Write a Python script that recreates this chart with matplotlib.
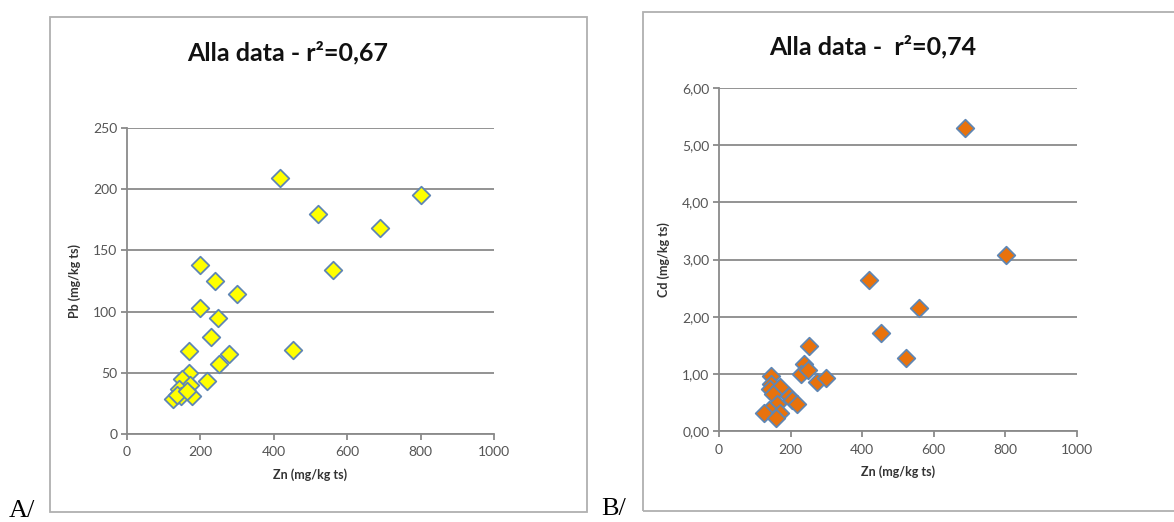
import matplotlib
matplotlib.use("Agg")
import matplotlib.pyplot as plt
from matplotlib.patches import Rectangle

# Panel A: Zn vs Pb
zn_a = [417, 802, 521, 689, 562, 451, 198, 240, 299, 198, 247, 228, 170, 278,
        251, 168, 218, 151, 172, 142, 177, 125, 148, 136, 163]
pb_a = [209, 195, 180, 168, 134, 69, 138, 125, 114, 103, 95, 79, 68, 65,
        57, 50, 43, 45, 40, 37, 31, 29, 31, 32, 35]

# Panel B: Zn vs Cd
zn_b = [687, 802, 420, 560, 452, 522, 251, 237, 229, 249, 274, 300, 146, 146,
        142, 170, 151, 196, 204, 218, 163, 140, 126, 170, 160]
cd_b = [5.30, 3.07, 2.65, 2.15, 1.72, 1.28, 1.49, 1.18, 1.00, 1.07, 0.86, 0.92,
        0.96, 0.83, 0.74, 0.77, 0.65, 0.61, 0.55, 0.47, 0.48, 0.37, 0.32, 0.31, 0.22]

xticks = [0, 200, 400, 600, 800, 1000]
yticks_a = [0, 50, 100, 150, 200, 250]
yticks_b = [0, 1, 2, 3, 4, 5, 6]

title_a = "Alla data - r²=0,67"
title_b = "Alla data -  r²=0,74"

W, H = 1174, 522
fig = plt.figure(figsize=(W / 100, H / 100), dpi=100)
fig.patch.set_facecolor("white")

FONT = "Lato"
tick_col = "#555555"
grid_col = "#8a8a8a"

def fx(px):
    return px / W

def fy(py):
    return 1 - py / H

# chart frames
for (x0, y0, x1, y1) in [(50, 17, 587, 512), (643, 12, 1185, 511)]:
    fig.patches.append(Rectangle((fx(x0), fy(y1)), fx(x1 - x0), (y1 - y0) / H,
                                 transform=fig.transFigure, fill=False,
                                 edgecolor="#b0b0b0", lw=1.3, zorder=0))

def make_ax(rect, x, y, yticks, ylim, color, ylabel, fmt):
    l, t, r, b = rect
    ax = fig.add_axes([fx(l), fy(b), fx(r - l), (b - t) / H])
    ax.set_xlim(0, 1000)
    ax.set_ylim(*ylim)
    ax.set_xticks(xticks)
    ax.set_yticks(yticks)
    ax.set_xticklabels([str(v) for v in xticks])
    ax.set_yticklabels([fmt(v) for v in yticks])
    for s in ["top", "right"]:
        ax.spines[s].set_visible(False)
    for s in ["left", "bottom"]:
        ax.spines[s].set_color(grid_col)
        ax.spines[s].set_linewidth(1.3)
    ax.yaxis.grid(True, color=grid_col, lw=1.3)
    ax.set_axisbelow(True)
    ax.tick_params(axis="both", colors=grid_col, length=4, width=1.3,
                   labelcolor=tick_col, labelsize=10)
    for lab in ax.get_xticklabels() + ax.get_yticklabels():
        lab.set_fontfamily(FONT)
    ax.tick_params(axis="x", pad=5)
    ax.tick_params(axis="y", pad=3)
    ax.scatter(x, y, marker="D", s=80, facecolor=color, edgecolor="#5f86b3",
               linewidth=1.3, zorder=3, clip_on=False)
    ax.set_xlabel("Zn (mg/kg ts)", fontfamily=FONT, fontweight="bold",
                  fontsize=9, color="#333333", labelpad=7)
    ax.set_ylabel(ylabel, fontfamily=FONT, fontweight="bold",
                  fontsize=9, color="#333333", labelpad=9)
    return ax

axA = make_ax((127, 128, 494, 434), zn_a, pb_a, yticks_a, (0, 250), "#ffff00",
              "Pb (mg/kg ts)", lambda v: str(v))
axB = make_ax((719, 88, 1077, 431), zn_b, cd_b, yticks_b, (0, 6), "#e8720c",
              "Cd (mg/kg ts)", lambda v: f"{v:.2f}".replace(".", ","))

fig.text(fx(288), fy(53), title_a, ha="center", va="center", fontfamily=FONT,
         fontweight="bold", fontsize=18, color="#111111")
fig.text(fx(873), fy(47), title_b, ha="center", va="center", fontfamily=FONT,
         fontweight="bold", fontsize=18, color="#111111")

fig.text(fx(9), fy(517), "A/", ha="left", va="baseline",
         fontfamily="Liberation Serif", fontsize=19, color="black")
fig.text(fx(601), fy(515), "B/", ha="left", va="baseline",
         fontfamily="Liberation Serif", fontsize=19, color="black")

fig.savefig("out.png", dpi=100)
